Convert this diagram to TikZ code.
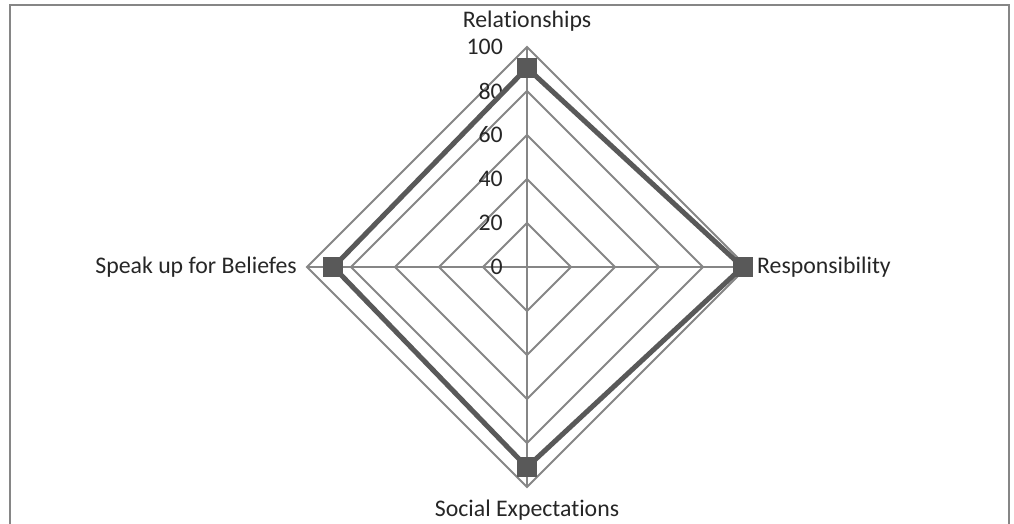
\documentclass[tikz,border=0pt]{standalone}
\usepackage{fontspec}
\setmainfont{Carlito}[Ligatures=NoCommon]
\definecolor{gridgray}{HTML}{868686}
\definecolor{seriesgray}{HTML}{595959}
\begin{document}
\begin{tikzpicture}[x=1pt,y=-1pt,
  grid/.style={draw=gridgray,line width=2pt},
  series/.style={draw=seriesgray,line width=5pt,line join=miter},
  marker/.style={fill=seriesgray,minimum size=20pt,inner sep=0pt,outer sep=0pt},
  lbl/.style={font=\fontsize{23.8}{28}\selectfont,text=black!85,inner sep=0pt},
  tick/.style={font=\fontsize{23.8}{28}\selectfont,text=black!85,inner sep=0pt,anchor=east}]
\useasboundingbox (0,0) rectangle (1014,523);
\draw[draw=gridgray,line width=2pt] (10,540) -- (10,5) -- (1009,5) -- (1009,540);
\def\cx{527}\def\cy{267}\def\s{2.2}
% rings
\foreach \r in {20,40,60,80,100}{
  \draw[grid] (\cx,\cy-\s*\r) -- (\cx+\s*\r,\cy) -- (\cx,\cy+\s*\r) -- (\cx-\s*\r,\cy) -- cycle;
}
\coordinate (c) at (\cx,\cy);
\coordinate (t) at (\cx,\cy-\s*100);
\coordinate (r) at (\cx+\s*100,\cy);
\coordinate (b) at (\cx,\cy+\s*100);
\coordinate (l) at (\cx-\s*100,\cy);
\draw[grid] (c) -- (t); \draw[grid] (c) -- (r); \draw[grid] (c) -- (b); \draw[grid] (c) -- (l);
% tick labels
\foreach \v in {0,20,40,60,80,100}{
  \node[tick] (tk\v) at (503,\cy-\s*\v) {\v};
}
% series
\coordinate (p1) at (\cx,\cy-\s*90.5);
\coordinate (p2) at (\cx+\s*98,\cy);
\coordinate (p3) at (\cx,\cy+\s*91);
\coordinate (p4) at (\cx-\s*88,\cy);
\draw[series] (p1) -- (p2) -- (p3) -- (p4) -- cycle;
\node[marker] (m1) at (p1) {};
\node[marker] (m2) at (p2) {};
\node[marker] (m3) at (p3) {};
\node[marker] (m4) at (p4) {};
% axis labels
\node[lbl] (a1) at (527,21) {Relationships};
\node[lbl,anchor=west] (a2) at (757,267) {Responsibility};
\node[lbl] (a3) at (527,510) {Social Expectations};
\node[lbl,anchor=east] (a4) at (297,267) {Speak up for Beliefes};
\end{tikzpicture}
\end{document}
